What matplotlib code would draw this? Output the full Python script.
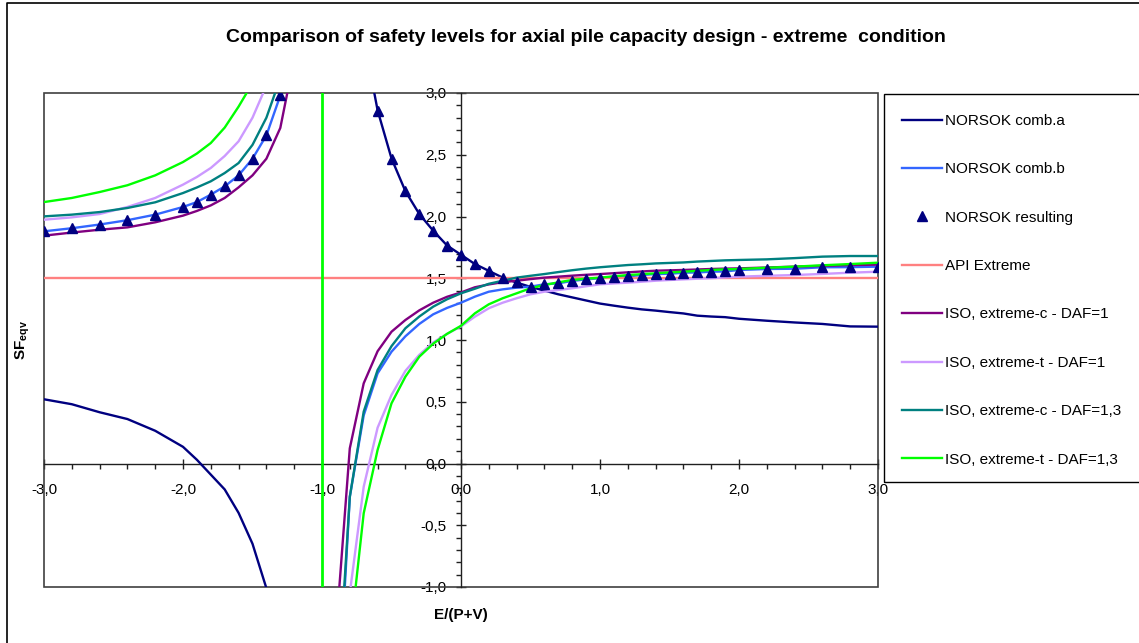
import numpy as np
import matplotlib
matplotlib.use("Agg")
import matplotlib.pyplot as plt
from matplotlib.ticker import MultipleLocator, FuncFormatter
from matplotlib.patches import Rectangle
from matplotlib.lines import Line2D

plt.rcParams['font.family'] = ['Liberation Sans', 'DejaVu Sans']
plt.rcParams['mathtext.fontset'] = 'custom'
plt.rcParams['mathtext.rm'] = 'Liberation Sans'
plt.rcParams['mathtext.bf'] = 'Liberation Sans:bold'

# ---------------- data ----------------
x_vals = [-3.0, -2.8, -2.6, -2.4, -2.2, -2.0, -1.9, -1.8, -1.7, -1.6, -1.5, -1.4, -1.3,
          -1.2, -1.1, -1.0, -0.9, -0.8, -0.7, -0.6, -0.5, -0.4, -0.3, -0.2, -0.1,
          0.0, 0.1, 0.2, 0.3, 0.4, 0.5, 0.6, 0.7, 0.8, 0.9, 1.0, 1.1, 1.2, 1.3, 1.4,
          1.5, 1.6, 1.7, 1.8, 1.9, 2.0, 2.2, 2.4, 2.6, 2.8, 3.0]

norsok_a = ([0.52, 0.48, 0.415, 0.36, 0.265, 0.135, 0.03, -0.09, -0.21, -0.40, -0.65, -1.01, -1.9]
            + [None, None, None, None, None, 3.45, 2.86, 2.47, 2.205, 2.02, 1.885, 1.765]
            + [1.69, 1.615, 1.56, 1.505, 1.465, 1.43, 1.40, 1.37, 1.345, 1.32, 1.295, 1.278, 1.262,
               1.248, 1.238, 1.226, 1.215, 1.197, 1.19, 1.185, 1.172, 1.156, 1.142, 1.13, 1.11, 1.108])

norsok_b = ([1.88, 1.905, 1.935, 1.97, 2.015, 2.077, 2.117, 2.177, 2.244, 2.333, 2.468, 2.657, 2.98]
            + [4.2, None, None, -2.3, -0.27, 0.39, 0.73, 0.905, 1.03, 1.13, 1.208, 1.26]
            + [1.302, 1.351, 1.391, 1.41, 1.424, 1.432, 1.451, 1.459, 1.478, 1.491, 1.50, 1.513, 1.515,
               1.526, 1.534, 1.536, 1.545, 1.547, 1.553, 1.555, 1.567, 1.575, 1.577, 1.589, 1.59, 1.594])

norsok_res = ([1.88, 1.905, 1.935, 1.97, 2.015, 2.077, 2.117, 2.177, 2.244, 2.333, 2.468, 2.657, 2.98]
              + [None, None, None, None, None, None, 2.857, 2.466, 2.204, 2.02, 1.885, 1.764]
              + [1.69, 1.615, 1.561, 1.505, 1.467, 1.43, 1.451, 1.459, 1.478, 1.491, 1.50, 1.513, 1.515,
                 1.526, 1.534, 1.536, 1.545, 1.547, 1.553, 1.555, 1.567, 1.575, 1.577, 1.589, 1.59, 1.594])

api_x = [-3.0, 3.0]
api_extreme = [1.5, 1.5]

iso_c_daf1 = ([1.845, 1.87, 1.893, 1.912, 1.953, 2.007, 2.045, 2.09, 2.15, 2.236, 2.333, 2.468, 2.717]
              + [3.28, None, None, -1.37, 0.123, 0.649, 0.909, 1.067, 1.162, 1.24, 1.302, 1.35]
              + [1.385, 1.427, 1.45, 1.468, 1.48, 1.493, 1.505, 1.513, 1.521, 1.528, 1.534, 1.541, 1.548,
                 1.555, 1.561, 1.564, 1.567, 1.571, 1.575, 1.578, 1.58, 1.587, 1.594, 1.60, 1.607, 1.61])

iso_t_daf1 = ([1.974, 1.993, 2.02, 2.077, 2.15, 2.258, 2.32, 2.393, 2.49, 2.609, 2.80, 3.06, None]
              + [None, None, None, None, -1.05, -0.188, 0.29, 0.555, 0.75, 0.88, 0.98, 1.05]
              + [1.11, 1.189, 1.257, 1.302, 1.338, 1.37, 1.391, 1.405, 1.419, 1.435, 1.451, 1.458, 1.464,
                 1.472, 1.48, 1.486, 1.491, 1.496, 1.50, 1.507, 1.513, 1.52, 1.526, 1.535, 1.545, 1.553])

iso_c_daf13 = ([2.001, 2.015, 2.036, 2.069, 2.115, 2.19, 2.235, 2.285, 2.352, 2.433, 2.58, 2.80, 3.12]
               + [None, None, None, -2.1, -0.27, 0.42, 0.757, 0.95, 1.095, 1.19, 1.27, 1.33]
               + [1.378, 1.415, 1.455, 1.48, 1.505, 1.52, 1.534, 1.55, 1.565, 1.578, 1.589, 1.598, 1.607,
                  1.613, 1.62, 1.624, 1.628, 1.635, 1.64, 1.645, 1.648, 1.653, 1.663, 1.675, 1.68, 1.68])

iso_t_daf13 = ([2.117, 2.15, 2.198, 2.253, 2.333, 2.441, 2.51, 2.595, 2.72, 2.89, 3.08, None, None]
               + [None, None, None, None, -1.43, -0.403, 0.11, 0.487, 0.703, 0.865, 0.97, 1.05]
               + [1.115, 1.216, 1.289, 1.338, 1.378, 1.419, 1.445, 1.467, 1.486, 1.497, 1.505, 1.516, 1.526,
                  1.533, 1.54, 1.547, 1.553, 1.56, 1.567, 1.572, 1.575, 1.585, 1.594, 1.605, 1.615, 1.626])

singular_x = -1.0  # jump of the curves at E/(P+V) = -1

labels = ["NORSOK comb.a", "NORSOK comb.b", "NORSOK resulting", "API Extreme",
          "ISO, extreme-c - DAF=1", "ISO, extreme-t - DAF=1",
          "ISO, extreme-c - DAF=1,3", "ISO, extreme-t - DAF=1,3"]
colors = ["#000080", "#3366FF", "#000080", "#FF8080",
          "#800080", "#CC99FF", "#008080", "#00FF00"]

def arr(v):
    return np.array([np.nan if a is None else a for a in v], dtype=float)

# ---------------- figure ----------------
W, H = 1139, 643
fig = plt.figure(figsize=(W / 100, H / 100), dpi=100)
fig.patch.set_facecolor("white")

L, R, T, B = 44, 878, 93, 587
ax = fig.add_axes([L / W, 1 - B / H, (R - L) / W, (B - T) / H])
ax.set_xlim(-3, 3)
ax.set_ylim(-1, 3)

lw = 1.7
xs = np.array(x_vals)
ax.plot(xs, arr(norsok_a), color=colors[0], lw=lw, label=labels[0], zorder=3)
ax.plot(xs, arr(norsok_b), color=colors[1], lw=lw, label=labels[1], zorder=3)
ax.plot(api_x, api_extreme, color=colors[3], lw=lw, label=labels[3], zorder=3)
ax.plot(xs, arr(iso_c_daf1), color=colors[4], lw=lw, label=labels[4], zorder=3)
ax.plot(xs, arr(iso_t_daf1), color=colors[5], lw=lw, label=labels[5], zorder=3)
ax.plot(xs, arr(iso_c_daf13), color=colors[6], lw=lw, label=labels[6], zorder=3)
ax.plot(xs, arr(iso_t_daf13), color=colors[7], lw=lw, label=labels[7], zorder=3)
ax.axvline(singular_x, color=colors[7], lw=lw + 0.3, zorder=3)
ax.plot(xs, arr(norsok_res), linestyle="none", marker="^", markersize=6.5,
        color=colors[2], label=labels[2], zorder=4)

# axes through the origin
for s in ["top", "right"]:
    ax.spines[s].set_visible(False)
ax.spines["left"].set_position(("data", 0))
ax.spines["bottom"].set_position(("data", 0))
for s in ["left", "bottom"]:
    ax.spines[s].set_color("#202020")
    ax.spines[s].set_linewidth(1.0)
    ax.spines[s].set_zorder(2)

# plot-area border
ax.add_patch(Rectangle((0, 0), 1, 1, transform=ax.transAxes, fill=False,
                       edgecolor="#404040", lw=1.2, clip_on=False, zorder=2))

fmt = FuncFormatter(lambda v, p: f"{v:.1f}".replace(".", ","))
ax.xaxis.set_major_locator(MultipleLocator(1.0))
ax.xaxis.set_minor_locator(MultipleLocator(0.2))
ax.yaxis.set_major_locator(MultipleLocator(0.5))
ax.yaxis.set_minor_locator(MultipleLocator(0.1))
ax.xaxis.set_major_formatter(fmt)
ax.yaxis.set_major_formatter(fmt)
ax.tick_params(axis="x", which="major", direction="inout", length=7.5, width=1, pad=10.5,
               labelsize=11, color="#202020")
ax.tick_params(axis="x", which="minor", direction="out", length=3.6, width=1, color="#202020")
ax.tick_params(axis="y", which="major", direction="inout", length=7.5, width=1, pad=6.5,
               labelsize=11, color="#202020")
ax.tick_params(axis="y", which="minor", direction="out", length=3.6, width=1, color="#202020")

# titles
fig.text(586 / W, 1 - 37 / H, "Comparison of safety levels for axial pile capacity design - extreme  condition",
         ha="center", va="center", fontsize=14, fontweight="bold")
fig.text(461 / W, 1 - 615 / H, "E/(P+V)", ha="center", va="center", fontsize=11, fontweight="bold")
fig.text(23 / W, 1 - 340 / H, r"$\mathbf{SF_{eqv}}$", ha="center", va="center",
         rotation=90, fontsize=11)

# chart-area border (left and top edges visible)
fig.add_artist(Line2D([7 / W, 7 / W, 1.0], [0.0, 1 - 3 / H, 1 - 3 / H], transform=fig.transFigure,
                      color="black", lw=1.2))

# legend box
fig.add_artist(Rectangle((884 / W, 1 - 482 / H), (W + 5 - 884) / W, (482 - 94) / H,
                         transform=fig.transFigure, fill=False, edgecolor="black", lw=1.0))
handles, labs = ax.get_legend_handles_labels()
hmap = dict(zip(labs, handles))
leg = fig.legend([hmap[l] for l in labels], labels, loc="upper left",
                 bbox_to_anchor=(902 / W, 1 - 114 / H), frameon=False, fontsize=11,
                 handlelength=2.6, handletextpad=0.2, labelspacing=2.25, borderaxespad=0,
                 borderpad=0)

fig.savefig("out.png", dpi=100)
